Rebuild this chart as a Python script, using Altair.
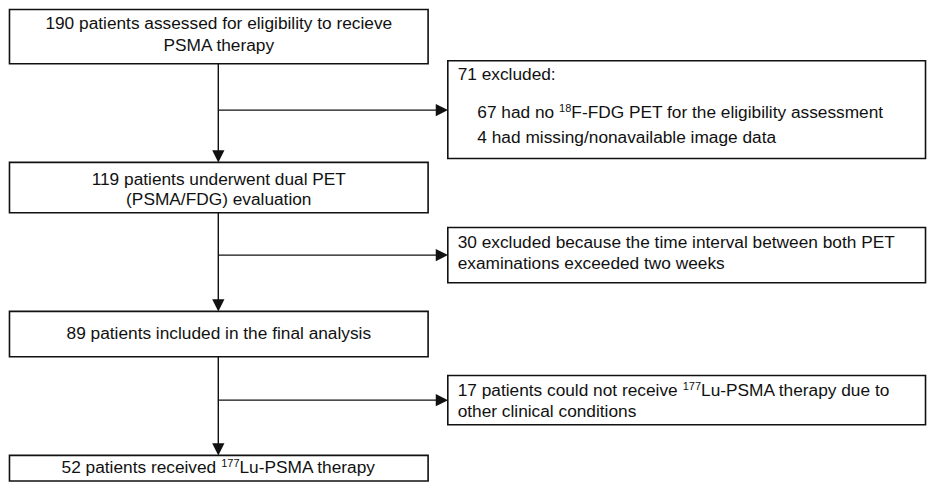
import altair as alt
import pandas as pd

# Box layout (reference pixel coordinates)
box_x = [3, 3, 3, 3, 448, 448, 448]
box_x2 = [428, 428, 428, 428, 933, 933, 933]
box_y = [2, 157, 308, 454, 54, 223, 373]
box_y2 = [57, 208, 354, 480, 153, 279, 423]

# Plain text lines
txt = [
    "190 patients assessed for eligibility to recieve",
    "PSMA therapy",
    "119 patients underwent dual PET",
    "(PSMA/FDG) evaluation",
    "89 patients included in the final analysis",
    "71 excluded:",
    "4 had missing/nonavailable image data",
    "30 excluded because the time interval between both PET",
    "examinations exceeded two weeks",
    "other clinical conditions",
]
txt_x = [215.5, 215.5, 215.5, 215.5, 215.5, 458, 478, 458, 458, 458]
txt_y = [17, 39, 175, 195, 331, 68, 132, 239, 260, 410]
txt_align = ["center"] * 5 + ["left"] * 5

# Lines with a superscript: (prefix, superscript, suffix)
sup_pre = ["67 had no ", "17 patients could not receive ", "52 patients received "]
sup_sup = ["18", "177", "177"]
sup_suf = ["F-FDG PET for the eligibility assessment",
           "Lu-PSMA therapy due to",
           "Lu-PSMA therapy"]
sup_x = [478, 458, 215.5]
sup_y = [107, 389, 467]
sup_align = ["left", "left", "center"]

# Vertical connector segments (box bottom -> arrow head)
vseg_x = [215, 215, 215]
vseg_y = [57, 208, 354]
vseg_y2 = [151, 302, 448]

# Horizontal connector segments (trunk -> arrow head)
hseg_x = [215, 215, 215]
hseg_x2 = [442, 442, 442]
hseg_y = [104, 251, 398]

# Arrow heads
head_x = [215, 215, 215, 442, 442, 442]
head_y = [151, 302, 448, 104, 251, 398]
head_dir = ["down", "down", "down", "right", "right", "right"]

FS = 17.3
FS_SUP = 11.0
PX_TO_DATA = 933.0 / 919.0

# Arial (Liberation Sans) advance widths, per 1000 em
AW = {" ": 278, "-": 333, "/": 278, ":": 278, "(": 333, ")": 333}
AW.update({d: 556 for d in "0123456789"})
AW.update(dict(a=556, b=556, c=500, d=556, e=556, f=278, g=556, h=556, i=222, j=222,
               k=500, l=222, m=833, n=556, o=556, p=556, q=556, r=333, s=500, t=278,
               u=556, v=500, w=722, x=500, y=500, z=500))
AW.update(dict(A=667, B=667, C=722, D=722, E=667, F=611, G=778, H=722, I=278, L=556,
               M=833, P=667, S=667, T=611, U=722))


def width(s, fs):
    return sum(AW.get(ch, 556) for ch in s) / 1000.0 * fs * PX_TO_DATA


rows = []
for t, x, y, a in zip(txt, txt_x, txt_y, txt_align):
    rows.append({"x": x, "y": y, "text": t, "fs": FS, "align": a})
for pre, sup, suf, x, y, a in zip(sup_pre, sup_sup, sup_suf, sup_x, sup_y, sup_align):
    wp, ws, wf = width(pre, FS), width(sup, FS_SUP), width(suf, FS)
    x0 = x if a == "left" else x - (wp + ws + wf) / 2.0
    rows.append({"x": x0, "y": y, "text": pre.rstrip(), "fs": FS, "align": "left"})
    rows.append({"x": x0 + wp, "y": y - 4.5, "text": sup, "fs": FS_SUP, "align": "left"})
    rows.append({"x": x0 + wp + ws, "y": y, "text": suf, "fs": FS, "align": "left"})

texts = pd.DataFrame(rows)
boxes = pd.DataFrame({"x": box_x, "x2": box_x2, "y": box_y, "y2": box_y2})
vlines = pd.DataFrame({"x": vseg_x, "y": vseg_y, "y2": vseg_y2})
hlines = pd.DataFrame({"x": hseg_x, "x2": hseg_x2, "y": hseg_y})
heads = pd.DataFrame({"x": head_x, "y": head_y, "dir": head_dir})

xs = alt.Scale(domain=[1.5, 934.5])
ys = alt.Scale(domain=[482, 0.5])
X = lambda f: alt.X(f, type="quantitative", scale=xs, axis=None)
Y = lambda f: alt.Y(f, type="quantitative", scale=ys, axis=None)

rect = alt.Chart(boxes).mark_rect(fill="white", stroke="#111111", strokeWidth=1.6).encode(
    x=X("x"), x2="x2", y=Y("y"), y2="y2"
)

vrule = alt.Chart(vlines).mark_rule(color="#111111", strokeWidth=1.4).encode(
    x=X("x"), y=Y("y"), y2="y2"
)
hrule = alt.Chart(hlines).mark_rule(color="#111111", strokeWidth=1.4).encode(
    x=X("x"), x2="x2", y=Y("y")
)

down = alt.Chart(heads[heads["dir"] == "down"]).mark_point(
    shape="M-1,-1L1,-1L0,1Z", filled=True, fill="#111111", opacity=1, size=150
).encode(x=X("x"), y=Y("y"))
right = alt.Chart(heads[heads["dir"] == "right"]).mark_point(
    shape="M-1,-1L1,0L-1,1Z", filled=True, fill="#111111", opacity=1, size=150
).encode(x=X("x"), y=Y("y"))

tc = alt.Chart(texts[texts["align"] == "center"]).mark_text(
    align="center", baseline="middle", font="Arial", color="#111111"
).encode(x=X("x"), y=Y("y"), text="text:N", size=alt.Size("fs:Q", scale=None))
tl = alt.Chart(texts[texts["align"] == "left"]).mark_text(
    align="left", baseline="middle", font="Arial", color="#111111"
).encode(x=X("x"), y=Y("y"), text="text:N", size=alt.Size("fs:Q", scale=None))

chart = alt.layer(vrule, hrule, rect, down, right, tc, tl).properties(
    width=919, height=475, padding=0, autosize=alt.AutoSizeParams(type="none")
).configure_view(stroke=None)

chart.save("out.html", embed_options={"renderer": "svg", "actions": False})
